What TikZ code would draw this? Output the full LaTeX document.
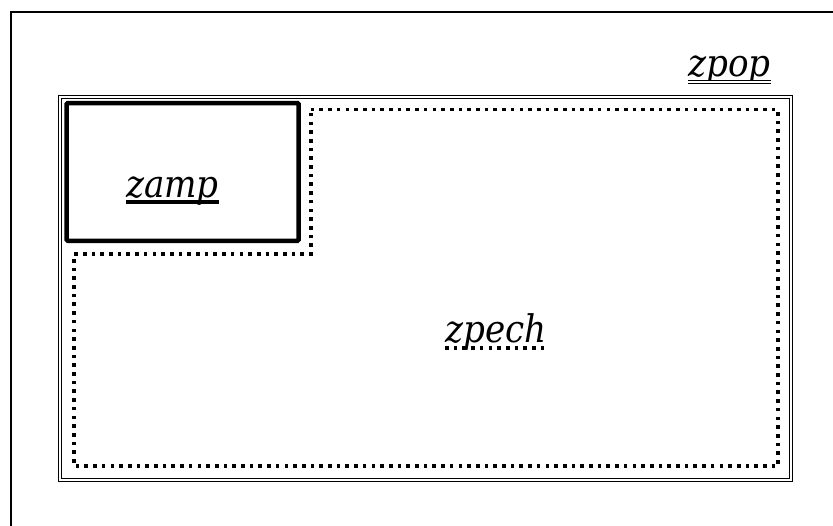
\documentclass[tikz,border=0pt]{standalone}
\usepackage{fontspec}
\setmainfont{DejaVu Serif Condensed}
\begin{document}
\begin{tikzpicture}[x=1pt,y=-1pt]
\tikzset{
  frame/.style={draw, line width=2.4pt},
  popbox/.style={draw, line width=1pt, double, double distance=2pt, inner sep=0pt},
  ampbox/.style={draw, line width=4.5pt, rounded corners=1pt, inner sep=0pt},
  pechline/.style={line width=3.6pt, dash pattern=on 3.6pt off 5.1pt},
  popline/.style={line width=1pt, double, double distance=2pt},
  ampline/.style={line width=4pt},
  lbl/.style={font=\fontsize{38}{44}\selectfont\itshape, inner sep=0pt, anchor=base west},
}
\useasboundingbox (0,0) rectangle (833,525);
\clip (0,0) rectangle (833,525);
\fill[white] (0,0) rectangle (833,525);
% outer frame (continues past the page)
\coordinate (fa) at (11,560);
\coordinate (fb) at (860,12);
\draw[frame] (fa) |- (fb);
% zpop double box
\node[popbox, minimum width=731pt, minimum height=383pt] (zpop) at (425.5,288.5) {};
% zamp thick box
\node[ampbox, minimum width=231.8pt, minimum height=137.7pt] (zamp) at (182.6,171.9) {};
% zpech dotted region
\draw[pechline] (310.7,109.5) -- (778,109.5) -- (778,466) -- (74,466) -- (74,254) -- (310.7,254) -- cycle;
% labels
\node[lbl] (zamptxt) at (126,197) {zamp};
\draw[ampline] ([yshift=-4.5pt]zamptxt.base west) -- ([yshift=-4.5pt]zamptxt.base east);
\node[lbl] (zpoptxt) at (688,76) {zpop};
\draw[popline] ([yshift=-6.2pt]zpoptxt.base west) -- ([yshift=-6.2pt]zpoptxt.base east);
\node[lbl] (zpechtxt) at (445,342) {zpech};
\draw[pechline] ([yshift=-6pt]zpechtxt.base west) -- ([yshift=-6pt]zpechtxt.base east);
\end{tikzpicture}
\end{document}
